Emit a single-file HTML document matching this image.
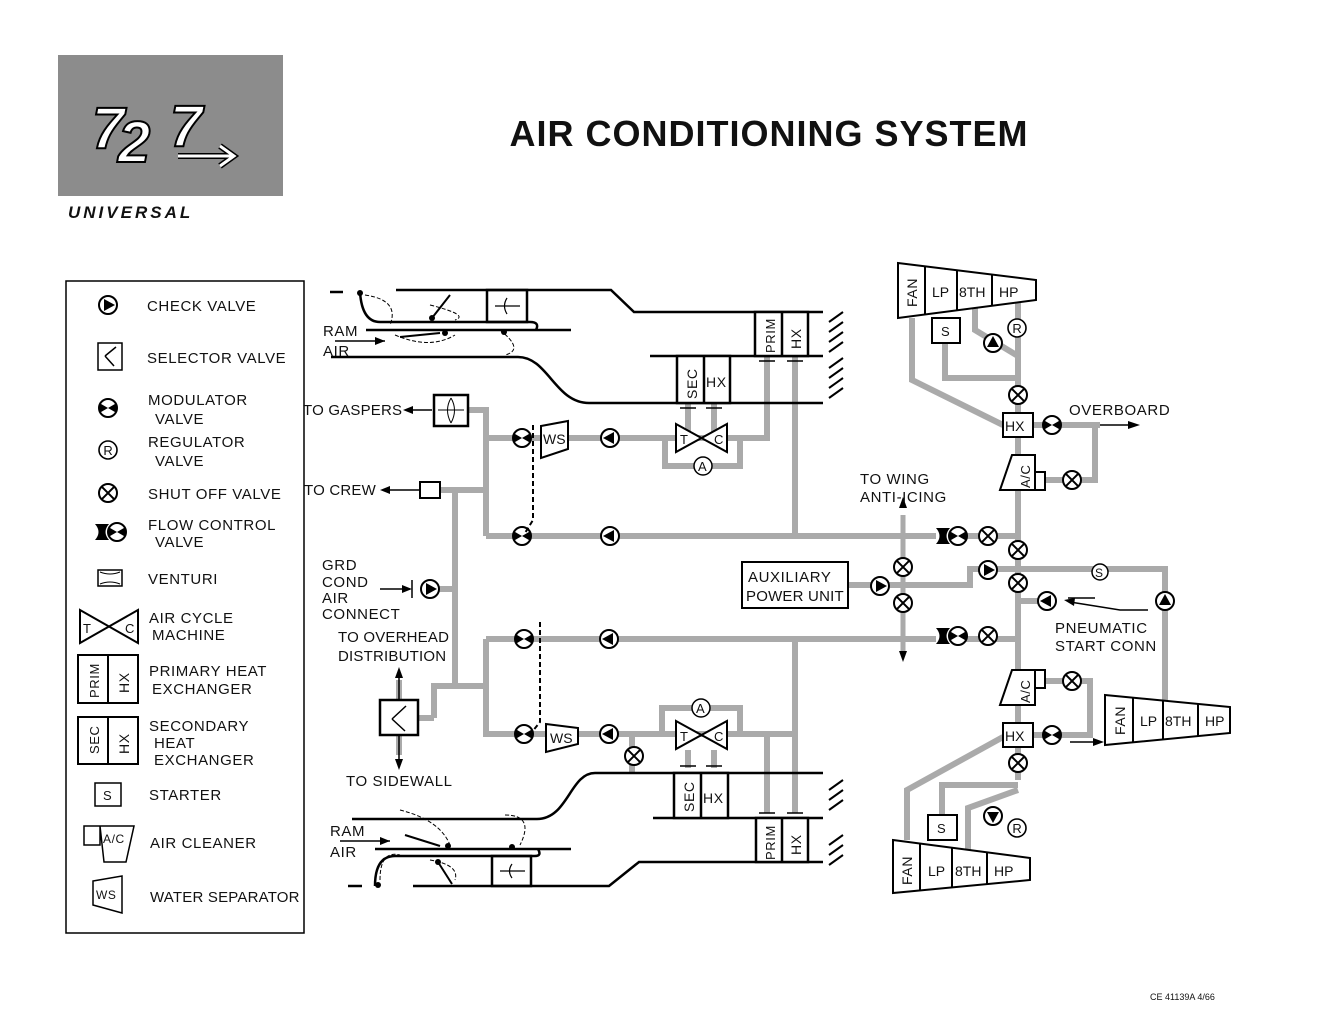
<!DOCTYPE html>
<html><head><meta charset="utf-8"><style>
html,body{margin:0;padding:0;background:#fff}
svg{display:block}
text{font-family:"Liberation Sans",sans-serif;fill:#111;letter-spacing:0.6px}
text.logo{fill:#fff;stroke:#000;stroke-width:2px;font-style:italic;font-weight:bold;letter-spacing:0}
</style></head><body>
<svg width="1321" height="1026" viewBox="0 0 1321 1026" xmlns="http://www.w3.org/2000/svg">
<defs>
<g id="chk"><circle r="9" fill="#fff" stroke="#000" stroke-width="2"/><polygon points="-4,-6 7,0 -4,6" fill="#000"/></g>
<g id="mod"><circle r="9" fill="#fff" stroke="#000" stroke-width="2"/><path d="M0,0 L-7.8,-4.5 A9,9 0 0 0 -7.8,4.5Z M0,0 L7.8,-4.5 A9,9 0 0 1 7.8,4.5Z" fill="#000"/></g>
<g id="so"><circle r="9" fill="#fff" stroke="#000" stroke-width="2"/><path d="M-6.3,-6.3L6.3,6.3M6.3,-6.3L-6.3,6.3" stroke="#000" stroke-width="2"/></g>
<g id="reg"><circle r="9" fill="#fff" stroke="#000" stroke-width="1.6"/><text x="0" y="5" font-size="13" text-anchor="middle" style="letter-spacing:0">R</text></g>
<g id="fcv"><rect x="-22" y="-8" width="14" height="16" fill="#000"/><path d="M-22,-8 Q-15,0 -22,8Z" fill="#fff"/><path d="M-8,-8 Q-15,0 -8,8Z" fill="#fff"/><use href="#mod" x="0"/></g>
</defs>

<!-- logo -->
<rect x="58" y="55" width="225" height="141" fill="#8c8c8c"/>
<text class="logo" x="92" y="148" font-size="58">7</text>
<text class="logo" x="118" y="162" font-size="58">2</text>
<text class="logo" x="170" y="146" font-size="58">7</text>
<path d="M178,156 L232,156 M220,146 L234,156 L220,166" stroke="#000" stroke-width="6" fill="none"/>
<path d="M178,156 L232,156 M220,146 L234,156 L220,166" stroke="#fff" stroke-width="3" fill="none"/>
<text x="68" y="218" font-size="17" font-style="italic" font-weight="bold" style="letter-spacing:3px">UNIVERSAL</text>

<text x="769" y="146" font-size="36" font-weight="bold" text-anchor="middle" style="letter-spacing:1px">AIR CONDITIONING SYSTEM</text>
<text x="1150" y="1000" font-size="9" style="letter-spacing:0">CE 41139A 4/66</text>

<!-- legend -->
<rect x="66" y="281" width="238" height="652" fill="none" stroke="#000" stroke-width="1.5"/>
<g font-size="15">
<use href="#chk" x="108" y="305"/><text x="147" y="311">CHECK VALVE</text>
<rect x="98" y="343" width="24" height="27" fill="none" stroke="#000" stroke-width="1.5"/><path d="M105,356 L116,347 M105,356 L114,366" stroke="#000" stroke-width="1.5"/>
<text x="147" y="363">SELECTOR VALVE</text>
<use href="#mod" x="108" y="408"/><text x="148" y="405">MODULATOR</text><text x="155" y="424">VALVE</text>
<use href="#reg" x="108" y="450"/><text x="148" y="447">REGULATOR</text><text x="155" y="466">VALVE</text>
<use href="#so" x="108" y="493"/><text x="148" y="499">SHUT OFF VALVE</text>
<use href="#fcv" x="117" y="532"/><text x="148" y="530">FLOW CONTROL</text><text x="155" y="547">VALVE</text>
<rect x="98" y="570" width="24" height="16" fill="none" stroke="#000" stroke-width="1.5"/><path d="M100,572 Q110,576 120,572 M100,584 Q110,580 120,584" stroke="#000" fill="none"/>
<text x="148" y="584">VENTURI</text>
<path d="M80,610 L138,643 L138,610 L80,643Z" fill="none" stroke="#000" stroke-width="2"/><text x="83" y="633" font-size="13">T</text><text x="125" y="633" font-size="13">C</text>
<text x="149" y="623">AIR CYCLE</text><text x="152" y="640">MACHINE</text>
<rect x="78" y="655" width="60" height="48" fill="none" stroke="#000" stroke-width="2"/><line x1="108" y1="655" x2="108" y2="703" stroke="#000" stroke-width="2"/>
<text transform="translate(99,698) rotate(-90)" font-size="13">PRIM</text><text transform="translate(129,693) rotate(-90)" font-size="14">HX</text>
<text x="149" y="676">PRIMARY HEAT</text><text x="152" y="694">EXCHANGER</text>
<rect x="78" y="717" width="60" height="47" fill="none" stroke="#000" stroke-width="2"/><line x1="108" y1="717" x2="108" y2="764" stroke="#000" stroke-width="2"/>
<text transform="translate(99,754) rotate(-90)" font-size="13">SEC</text><text transform="translate(129,754) rotate(-90)" font-size="14">HX</text>
<text x="149" y="731">SECONDARY</text><text x="154" y="748">HEAT</text><text x="154" y="765">EXCHANGER</text>
<rect x="95" y="783" width="26" height="23" fill="none" stroke="#000" stroke-width="1.5"/><text x="103" y="800" font-size="13">S</text>
<text x="149" y="800">STARTER</text>
<path d="M84,826 L100,826 L100,845 L84,845Z M100,826 L134,826 L126,862 L104,862Z" fill="none" stroke="#000" stroke-width="1.5"/><text x="103" y="843" font-size="12">A/C</text>
<text x="150" y="848">AIR CLEANER</text>
<path d="M93,881 L122,876 L122,913 L93,905Z" fill="none" stroke="#000" stroke-width="1.5"/><text x="96" y="899" font-size="12">WS</text>
<text x="150" y="902" style="letter-spacing:0.2px">WATER SEPARATOR</text>
</g>

<!-- pipes -->
<g stroke="#aaa" stroke-width="6" fill="none">
<path d="M468,410 H486 V536"/>
<path d="M486,438 H767 V356"/>
<path d="M665,438 V466 H740 V438"/>
<path d="M688,403 V438 M714,403 V438"/>
<path d="M795,356 V536"/>
<path d="M486,536 H1018"/>
<path d="M440,490 H486"/><path d="M455,490 V686"/>
<path d="M430,589 H455"/>
<path d="M434,718 H418 M434,718 V686 H486"/>
<path d="M486,639 H1018"/>
<path d="M486,639 V734 H795"/>
<path d="M795,639 V813 M767,734 V813"/>
<path d="M662,734 V708 H740 V734"/>
<path d="M688,750 V768 M714,750 V768"/>
<path d="M632,734 V773"/>
<path d="M399,700 V680 M399,735 V755"/>
<path d="M848,585 H970 V569 H1165 V705"/>
<path d="M903,515 V655" stroke-width="5"/>
<path d="M1018,300 V780"/>
<path d="M1018,601 H1045"/>
<path d="M912,318 V380 L1003,425"/>
<path d="M945,343 V378 H1018"/>
<path d="M975,300 V330 L1018,356"/>
<path d="M1033,425 H1095 M1100,425 H1095 V480 H1045"/>
<path d="M1033,735 H1090 V681 H1045"/>
<path d="M907,840 V790 L1003,737"/>
<path d="M942,815 V785 H1018"/>
<path d="M968,858 V808 L1018,790"/>
</g>

<!-- top ducts -->
<g stroke="#000" stroke-width="2.5" fill="none">
<path d="M330,292 H343"/>
<path d="M396,290 H611 L634,312 H823"/>
<path d="M360,292 Q362,322 380,322 H530 Q540,322 536,330"/>
<path d="M366,330 H571"/>
<path d="M331,357 H518 C548,357 555,403 589,403 H823"/>
<path d="M650,356 H823"/>
<rect x="755" y="312" width="53" height="44" fill="#fff"/><line x1="782" y1="312" x2="782" y2="356"/>
<rect x="677" y="356" width="53" height="47" fill="#fff"/><line x1="704" y1="356" x2="704" y2="403"/>
<rect x="487" y="290" width="40" height="32"/>
<path d="M829,322 L843,312 M829,332 L843,322 M829,342 L843,332 M829,352 L843,342 M829,368 L843,358 M829,378 L843,368 M829,388 L843,378 M829,398 L843,388" stroke-width="2"/>
<path d="M348,886 H362"/>
<path d="M413,886 H609 L639,862 H823"/>
<path d="M375,886 Q375,856 395,856 H535 Q542,856 538,849"/>
<path d="M375,849 H571"/>
<path d="M352,819 H537 C568,819 570,773 595,773 H823"/>
<path d="M653,818 H823"/>
<rect x="674" y="773" width="54" height="45" fill="#fff"/><line x1="701" y1="773" x2="701" y2="818"/>
<rect x="756" y="818" width="52" height="44" fill="#fff"/><line x1="782" y1="818" x2="782" y2="862"/>
<rect x="492" y="856" width="39" height="30"/>
<path d="M829,790 L843,780 M829,800 L843,790 M829,810 L843,800 M829,845 L843,835 M829,855 L843,845 M829,865 L843,855" stroke-width="2"/>
</g>
<g stroke="#000" stroke-width="1" fill="none" stroke-dasharray="4,2">
<path d="M365,295 Q400,300 390,325 M430,305 Q470,315 455,320"/>
<path d="M395,335 Q430,350 455,335 M500,330 Q525,350 505,355"/>
<path d="M400,810 Q440,820 450,845 M505,815 Q535,815 520,845"/>
<path d="M380,880 Q380,850 400,855 M430,860 Q460,865 455,880"/>
</g>
<g stroke="#000" stroke-width="2">
<line x1="432" y1="318" x2="450" y2="295"/><line x1="400" y1="337" x2="440" y2="333"/>
<line x1="440" y1="846" x2="405" y2="835"/><line x1="438" y1="862" x2="452" y2="884"/>
</g>
<g fill="#000"><circle cx="360" cy="293" r="3"/><circle cx="432" cy="318" r="3"/><circle cx="445" cy="333" r="3"/><circle cx="504" cy="332" r="3"/><circle cx="448" cy="846" r="3"/><circle cx="512" cy="847" r="3"/><circle cx="438" cy="862" r="3"/><circle cx="378" cy="885" r="3"/></g>
<path d="M507,298 Q502,306 507,314 M495,306 H520" stroke="#000" stroke-width="1.2" fill="none"/>
<path d="M512,864 Q507,871 512,878 M500,871 H525" stroke="#000" stroke-width="1.2" fill="none"/>
<g stroke="#000" stroke-width="1.5"><path d="M680,408 H696 M706,408 H722 M759,361 H775 M787,361 H803 M680,766 H696 M706,766 H722 M759,813 H775 M787,813 H803"/></g>

<g font-size="15">
<text x="323" y="336">RAM</text><text x="323" y="356">AIR</text>
<text x="330" y="836">RAM</text><text x="330" y="857">AIR</text>
<text x="303" y="415" style="letter-spacing:0.2px">TO GASPERS</text>
<text x="304" y="495" style="letter-spacing:0.2px">TO CREW</text>
<text x="322" y="570">GRD</text><text x="322" y="587">COND</text><text x="322" y="603">AIR</text><text x="322" y="619">CONNECT</text>
<text x="338" y="642" style="letter-spacing:0.2px">TO OVERHEAD</text><text x="338" y="661" style="letter-spacing:0.2px">DISTRIBUTION</text>
<text x="346" y="786">TO SIDEWALL</text>
</g>
<path d="M335,341 H385" stroke="#000" stroke-width="1.5"/><polygon points="385,341 375,337 375,345"/>
<path d="M340,841 H390" stroke="#000" stroke-width="1.5"/><polygon points="390,841 380,837 380,845"/>
<g stroke="#000" stroke-width="1.5">
<path d="M407,410 H432 M383,490 H420 M380,589 H410 M412,580 V598"/>
</g>
<polygon points="403,410 413,406 413,414"/><polygon points="380,490 390,486 390,494"/><polygon points="412,589 402,585 402,593"/>
<rect x="434" y="395" width="34" height="31" fill="#fff" stroke="#000" stroke-width="2.5"/>
<path d="M451,398 Q444,410 451,423 M451,398 Q458,410 451,423 M438,410 H464" stroke="#000" fill="none"/>
<rect x="420" y="482" width="20" height="16" fill="#fff" stroke="#000" stroke-width="2"/>
<rect x="380" y="700" width="38" height="35" fill="#fff" stroke="#000" stroke-width="2.5"/>
<path d="M392,719 L406,706 M392,719 L405,731" stroke="#000" stroke-width="1.5"/>
<path d="M399,700 V672 M399,735 V765" stroke="#000" stroke-width="1.5"/><polygon points="399,667 395,678 403,678"/><polygon points="399,770 395,759 403,759"/>

<use href="#mod" x="522" y="438"/><use href="#mod" x="522" y="536"/>
<path d="M533,425 V520 L525,533" stroke="#000" stroke-width="2" stroke-dasharray="5,3" fill="none"/>
<path d="M541,426 L568,421 L568,449 L541,458Z" fill="#fff" stroke="#000" stroke-width="2"/><text x="543" y="444" font-size="14" style="letter-spacing:0">WS</text>
<use href="#chk" x="610" y="438" transform="rotate(180 610 438)"/><use href="#chk" x="610" y="536" transform="rotate(180 610 536)"/>
<path d="M676,424 L727,452 L727,424 L676,452Z" fill="#fff" stroke="#000" stroke-width="2"/><text x="680" y="444" font-size="13">T</text><text x="714" y="444" font-size="13">C</text>
<circle cx="703" cy="466" r="9" fill="#fff" stroke="#000" stroke-width="1.5"/><text x="698" y="471" font-size="13" style="letter-spacing:0">A</text>
<g font-size="14"><text transform="translate(697,399) rotate(-90)">SEC</text><text x="706" y="387">HX</text>
<text transform="translate(775,353) rotate(-90)" font-size="13">PRIM</text><text transform="translate(801,349) rotate(-90)">HX</text>
<text transform="translate(694,812) rotate(-90)">SEC</text><text x="703" y="803">HX</text>
<text transform="translate(775,860) rotate(-90)" font-size="13">PRIM</text><text transform="translate(801,855) rotate(-90)">HX</text></g>
<use href="#mod" x="524" y="639"/><use href="#mod" x="524" y="734"/>
<path d="M540,622 V722 L532,732" stroke="#000" stroke-width="2" stroke-dasharray="5,3" fill="none"/>
<path d="M546,724 L578,728 L578,744 L546,752Z" fill="#fff" stroke="#000" stroke-width="2"/><text x="550" y="743" font-size="14" style="letter-spacing:0">WS</text>
<use href="#chk" x="609" y="639" transform="rotate(180 609 639)"/><use href="#chk" x="609" y="734" transform="rotate(180 609 734)"/>
<use href="#so" x="634" y="756"/>
<path d="M676,721 L727,749 L727,721 L676,749Z" fill="#fff" stroke="#000" stroke-width="2"/><text x="680" y="741" font-size="13">T</text><text x="714" y="741" font-size="13">C</text>
<circle cx="701" cy="708" r="9" fill="#fff" stroke="#000" stroke-width="1.5"/><text x="696" y="713" font-size="13" style="letter-spacing:0">A</text>
<use href="#chk" x="430" y="589"/>

<rect x="742" y="562" width="106" height="46" fill="#fff" stroke="#000" stroke-width="2"/>
<text x="748" y="582" font-size="15">AUXILIARY</text><text x="746" y="601" font-size="15" style="letter-spacing:0.2px">POWER UNIT</text>
<use href="#chk" x="880" y="586"/>
<use href="#so" x="903" y="567"/><use href="#so" x="903" y="603"/>
<polygon points="903,497 899,508 907,508"/><polygon points="903,662 899,651 907,651"/>
<text x="860" y="484" font-size="15">TO WING</text><text x="860" y="502" font-size="15">ANTI-ICING</text>
<use href="#fcv" x="958" y="536"/><use href="#so" x="988" y="536"/>
<use href="#fcv" x="958" y="636"/><use href="#so" x="988" y="636"/>
<use href="#so" x="1018" y="550"/><use href="#so" x="1018" y="583"/>
<use href="#chk" x="988" y="570"/>
<circle cx="1100" cy="572" r="8" fill="#fff" stroke="#000" stroke-width="1.5"/><text x="1095" y="577" font-size="12">S</text>
<use href="#chk" x="1165" y="601" transform="rotate(-90 1165 601)"/>
<use href="#chk" x="1047" y="601" transform="rotate(180 1047 601)"/>
<path d="M1070,602 L1120,610 L1148,610" stroke="#000" stroke-width="1.5" fill="none"/><polygon points="1064,600 1075,598 1074,606"/>
<path d="M1068,598 H1095" stroke="#000" stroke-width="1.5"/>
<text x="1055" y="633" font-size="15">PNEUMATIC</text><text x="1055" y="651" font-size="15">START CONN</text>

<path d="M898,263 L1036,280 L1036,300 L898,318Z" fill="#fff" stroke="#000" stroke-width="2"/>
<path d="M925,266 V314 M957,270 V310 M992,275 V305" stroke="#000" stroke-width="2"/>
<text transform="translate(917,307) rotate(-90)" font-size="14">FAN</text>
<text x="932" y="297" font-size="14" style="letter-spacing:0">LP</text><text x="959" y="297" font-size="14" style="letter-spacing:0">8TH</text><text x="999" y="297" font-size="14" style="letter-spacing:0">HP</text>
<rect x="932" y="318" width="28" height="25" fill="#fff" stroke="#000" stroke-width="2"/><text x="941" y="336" font-size="13">S</text>
<use href="#reg" x="1017" y="328"/>
<use href="#chk" x="993" y="343" transform="rotate(-90 993 343)"/>
<use href="#so" x="1018" y="395"/>
<rect x="1003" y="413" width="30" height="24" fill="#fff" stroke="#000" stroke-width="2"/><text x="1005" y="431" font-size="14" style="letter-spacing:0">HX</text>
<use href="#mod" x="1052" y="425"/>
<text x="1069" y="415" font-size="15">OVERBOARD</text>
<path d="M1100,425 H1130" stroke="#000" stroke-width="1.5"/><polygon points="1140,425 1128,421 1128,429"/>
<path d="M1000,490 L1012,455 L1035,455 L1035,490Z M1035,472 H1045 V490 H1035" fill="#fff" stroke="#000" stroke-width="2"/>
<text transform="translate(1030,488) rotate(-90)" font-size="13">A/C</text>
<use href="#so" x="1072" y="480"/>

<path d="M1000,705 L1012,670 L1035,670 L1035,705Z M1035,670 H1045 V688 H1035" fill="#fff" stroke="#000" stroke-width="2"/>
<text transform="translate(1030,703) rotate(-90)" font-size="13">A/C</text>
<use href="#so" x="1072" y="681"/>
<rect x="1003" y="723" width="30" height="24" fill="#fff" stroke="#000" stroke-width="2"/><text x="1005" y="741" font-size="14" style="letter-spacing:0">HX</text>
<use href="#mod" x="1052" y="735"/>
<path d="M1070,742 H1098" stroke="#000" stroke-width="1.5"/><polygon points="1104,742 1093,738 1093,746"/>
<use href="#so" x="1018" y="763"/>
<path d="M1105,695 L1230,707 L1230,733 L1105,745Z" fill="#fff" stroke="#000" stroke-width="2"/>
<path d="M1133,698 V742 M1163,700 V740 M1198,704 V737" stroke="#000" stroke-width="2"/>
<text transform="translate(1125,735) rotate(-90)" font-size="14">FAN</text>
<text x="1140" y="726" font-size="14" style="letter-spacing:0">LP</text><text x="1165" y="726" font-size="14" style="letter-spacing:0">8TH</text><text x="1205" y="726" font-size="14" style="letter-spacing:0">HP</text>
<path d="M893,840 L1030,858 L1030,880 L893,893Z" fill="#fff" stroke="#000" stroke-width="2"/>
<path d="M920,843 V890 M952,847 V887 M987,852 V884" stroke="#000" stroke-width="2"/>
<text transform="translate(912,885) rotate(-90)" font-size="14">FAN</text>
<text x="928" y="876" font-size="14" style="letter-spacing:0">LP</text><text x="955" y="876" font-size="14" style="letter-spacing:0">8TH</text><text x="994" y="876" font-size="14" style="letter-spacing:0">HP</text>
<rect x="928" y="815" width="29" height="25" fill="#fff" stroke="#000" stroke-width="2"/><text x="937" y="833" font-size="13">S</text>
<use href="#reg" x="1017" y="828"/>
<use href="#chk" x="993" y="816" transform="rotate(90 993 816)"/>
</svg>
</body></html>
